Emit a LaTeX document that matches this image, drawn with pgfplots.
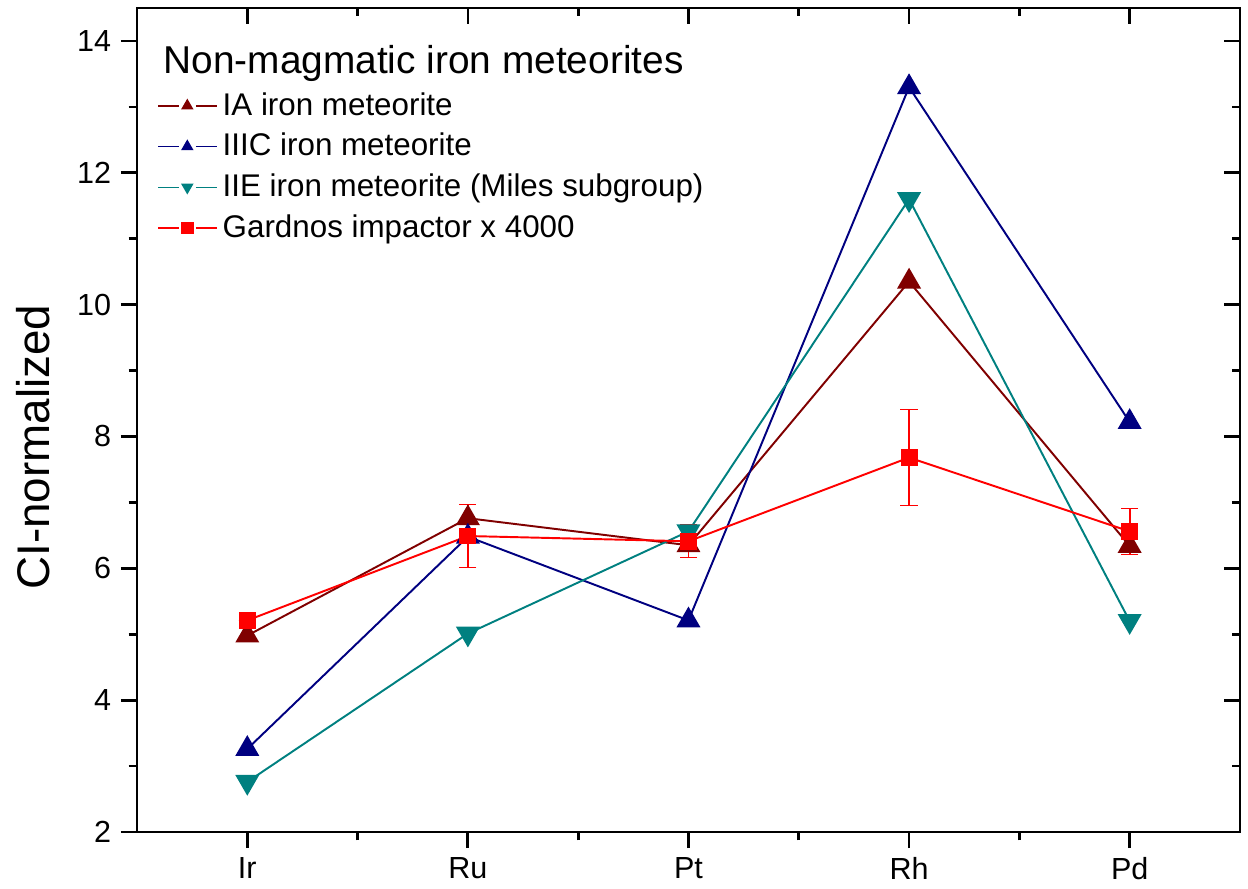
\documentclass[border=0pt]{standalone}
\usepackage{fontspec}
\setmainfont{Liberation Sans}
\usepackage{pgfplots}
\pgfplotsset{compat=1.18}
\definecolor{iaRed}{RGB}{128,0,0}
\definecolor{iiicBlue}{RGB}{0,0,128}
\definecolor{iieTeal}{RGB}{0,128,128}
\definecolor{gRed}{RGB}{255,0,0}

\pgfplotsset{
  frame/.style={
    width=397.7pt, height=297.1pt, scale only axis,
    xmin=-0.5, xmax=4.5, ymin=2, ymax=14.5,
    xtick={0,...,4}, minor x tick num=1,
    ytick={2,4,...,14}, minor y tick num=1,
    major tick length=5.8pt, minor tick length=3pt,
    axis line style={line width=1pt},
    tick style={black, line width=1pt},
  },
}

\begin{document}
\begin{tikzpicture}
\useasboundingbox (-49.4pt,-20.2pt) rectangle (400.6pt,300pt);
\begin{axis}[frame,
  tick align=outside, xtick pos=left, ytick pos=left,
  xticklabels={Ir,Ru,Pt,Rh,Pd},
  ticklabel style={font=\fontsize{11}{13}\selectfont},
  /pgf/number format/assume math mode=true,
  ylabel={CI-normalized},
  ylabel style={font=\fontsize{16.5}{19}\selectfont, at={(axis description cs:-0.094,0.467)}, anchor=center},
  legend style={at={(rel axis cs:0.018,0.905)}, anchor=north west, draw=none, fill=none,
    font=\fontsize{11.3}{13}\selectfont, row sep=1pt, inner sep=0pt, cells={anchor=west}},
  legend image code/.code={
    \draw[#1, line width=0.5pt] (0cm,0cm) -- (0.26cm,0cm) (0.48cm,0cm) -- (0.74cm,0cm);
    \draw[#1, only marks] plot coordinates {(0.37cm,0cm)};},
  legend image post style={mark size=1.9pt},
  every axis plot/.append style={line width=0.7pt},
  ]
  \addplot[iaRed, mark=triangle*, mark size=4.3pt, mark options={solid}]
    coordinates {(0,4.98) (1,6.76) (2,6.35) (3,10.35) (4,6.34)};
  \addlegendentry{IA iron meteorite}
  \addplot[iiicBlue, mark=triangle*, mark size=4.3pt, mark options={solid}]
    coordinates {(0,3.26) (1,6.48) (2,5.21) (3,13.3) (4,8.22)};
  \addlegendentry{IIIC iron meteorite}
  \addplot[iieTeal, mark=triangle*, mark size=4.3pt, mark options={solid, rotate=180}]
    coordinates {(0,2.76) (1,5.01) (2,6.56) (3,11.6) (4,5.2)};
  \addlegendentry{IIE iron meteorite (Miles subgroup)}
  \addplot[gRed, mark=square*, mark size=2.7pt, mark options={solid},
    error bars/.cd, y dir=both, y explicit,
    error bar style={gRed, line width=0.7pt},
    error mark options={gRed, mark size=3.1pt, rotate=90}]
    table[x=x, y=y, y error=e] {
      x y e
      0 5.21 0
      1 6.49 0.48
      2 6.41 0.25
      3 7.68 0.73
      4 6.56 0.35
    };
  \addlegendentry{Gardnos impactor x 4000}
  \node[anchor=base west, inner sep=0pt, font=\fontsize{14}{16}\selectfont]
    at (rel axis cs:0.0236,0.921) {Non-magmatic iron meteorites};
\end{axis}
\begin{axis}[frame,
  tick align=inside, xtick pos=right, ytick pos=right,
  xticklabels={}, yticklabels={},
  ]
\end{axis}
\end{tikzpicture}
\end{document}
